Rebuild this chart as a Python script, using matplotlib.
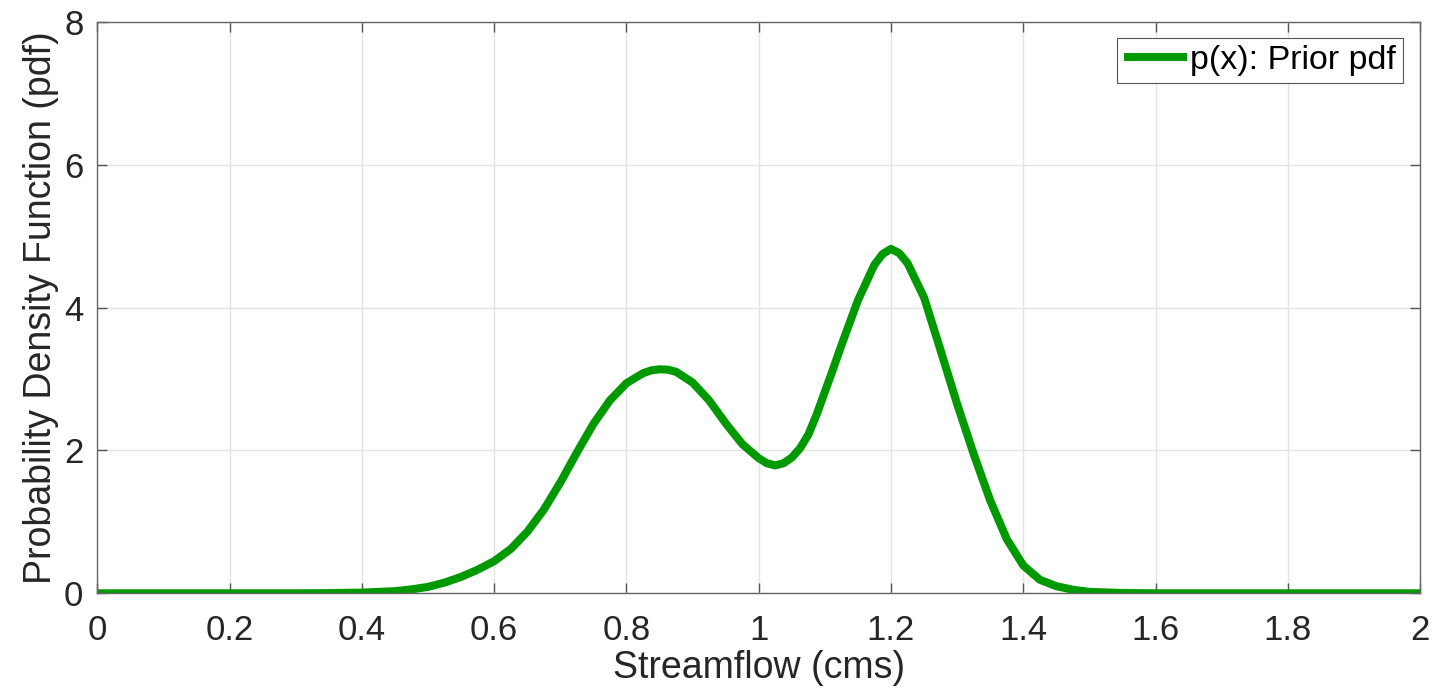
import numpy as np
import matplotlib.pyplot as plt

plt.rcParams['font.family'] = ['Liberation Sans', 'DejaVu Sans']

# values
flow = [0.0, 0.30, 0.35, 0.40, 0.45, 0.475, 0.50, 0.525, 0.55, 0.575,
        0.60, 0.625, 0.65, 0.675, 0.70, 0.725, 0.75, 0.775, 0.80, 0.825,
        0.8375, 0.85, 0.8625, 0.875, 0.90, 0.925, 0.95, 0.975, 1.00, 1.0125,
        1.025, 1.0375, 1.05, 1.0625, 1.075, 1.0875, 1.10, 1.1125, 1.125, 1.15,
        1.175, 1.1875, 1.20, 1.2125, 1.225, 1.25, 1.275, 1.30, 1.325, 1.35,
        1.375, 1.40, 1.425, 1.45, 1.475, 1.50, 1.55, 1.60, 2.0]
prior_pdf = [0.0, 0.0, 0.003, 0.01, 0.03, 0.055, 0.09, 0.15, 0.23, 0.33,
             0.45, 0.62, 0.86, 1.17, 1.55, 1.97, 2.37, 2.70, 2.94, 3.08,
             3.12, 3.135, 3.13, 3.10, 2.95, 2.70, 2.38, 2.09, 1.89, 1.82,
             1.79, 1.82, 1.90, 2.03, 2.22, 2.50, 2.82, 3.14, 3.47, 4.10,
             4.60, 4.75, 4.82, 4.76, 4.62, 4.14, 3.40, 2.65, 1.95, 1.30,
             0.76, 0.39, 0.19, 0.10, 0.05, 0.02, 0.005, 0.0, 0.0]

xticks = [0, 0.2, 0.4, 0.6, 0.8, 1, 1.2, 1.4, 1.6, 1.8, 2]
xticklabels = ['0', '0.2', '0.4', '0.6', '0.8', '1', '1.2', '1.4', '1.6', '1.8', '2']
yticks = [0, 2, 4, 6, 8]

fig = plt.figure(figsize=(14.42, 6.95), dpi=100)
ax = fig.add_axes([0.0675, 0.1463, 0.9173, 0.8225])

ax.plot(flow, prior_pdf, color='#009900', lw=5.8, solid_capstyle='butt',
        solid_joinstyle='round', label='p(x): Prior pdf')

ax.set_xlim(0, 2)
ax.set_ylim(0, 8)
ax.set_xticks(xticks)
ax.set_xticklabels(xticklabels)
ax.set_yticks(yticks)
ax.grid(True, color='#e3e3e3', lw=1.0)
ax.set_axisbelow(True)
ax.tick_params(direction='in', length=7, width=1.0, colors='#555555',
               labelcolor='#262626', labelsize=25, top=True, right=True)
ax.tick_params(axis='x', pad=15)
ax.tick_params(axis='y', pad=10)
for s in ax.spines.values():
    s.set_color('#666666')
    s.set_linewidth(1.0)

ax.set_xlabel('Streamflow (cms)', fontsize=27, color='#262626', labelpad=2)
ax.set_ylabel('Probability Density Function (pdf)', fontsize=27, color='#262626', labelpad=4)

leg = ax.legend(loc='upper right', fontsize=24.5, handlelength=1.85, handletextpad=0.1,
                borderpad=0.2, borderaxespad=0, fancybox=False, framealpha=1,
                edgecolor='#555555', bbox_to_anchor=(0.987, 0.9715))
leg.get_frame().set_linewidth(0.8)

fig.savefig('out.png', dpi=100)
